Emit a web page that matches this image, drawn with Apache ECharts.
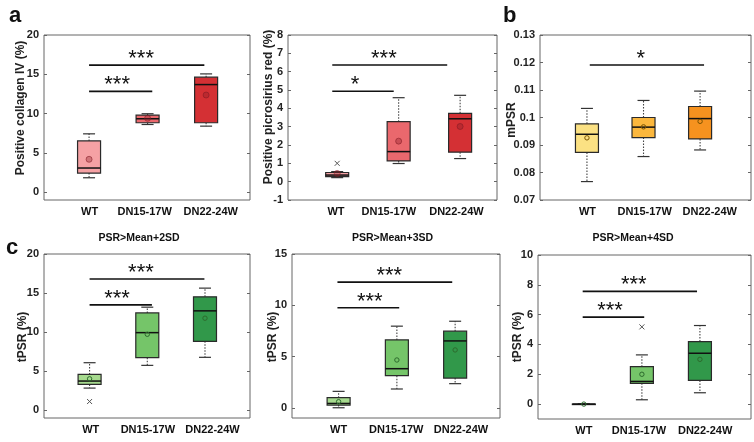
<!DOCTYPE html>
<html><head><meta charset="utf-8">
<script src="https://cdn.jsdelivr.net/npm/echarts@6/dist/echarts.min.js"></script>
<style>html,body{margin:0;padding:0;background:#fff}#c{width:754px;height:442px}</style>
</head><body><div id="c"></div>
<script>
// ---------- data ----------
const groups = ['WT', 'DN15-17W', 'DN22-24W'];
// five-number summaries per group: [min, q1, median, q3, max]
const collagenIV = [[1.83, 2.43, 3.07, 6.52, 7.42], [8.61, 8.83, 9.34, 9.80, 9.98], [8.40, 8.83, 13.69, 14.63, 15.05]];
const collagenIVMean = [4.18, 9.40, 12.36];
const collagenIVOutliers = [];
const collagenIVSig = [[1.0, 2.08, 12.83, 1.48], [1.0, 2.97, 16.16, 1.89]];
const collagenIVSigLabels = ['***', '***'];
const collagenIVTicks = [0, 5, 10, 15, 20];

const picrosirius = [[0.22, 0.27, 0.36, 0.50, 0.55], [0.99, 1.13, 1.64, 3.27, 4.58], [1.26, 1.61, 3.43, 3.73, 4.71]];
const picrosiriusMean = [0.45, 2.21, 3.01];
const picrosiriusOutliers = [[1, 1.0]];
const picrosiriusSig = [[0.92, 1.92, 4.93, 1.29], [0.92, 2.79, 6.36, 1.76]];
const picrosiriusSigLabels = ['*', '***'];
const picrosiriusTicks = [-1, 0, 1, 2, 3, 4, 5, 6, 7, 8];

const mPSR = [[0.0767, 0.0873, 0.0939, 0.0977, 0.1033], [0.0858, 0.0927, 0.0965, 0.1000, 0.1062], [0.0882, 0.0922, 0.0996, 0.1040, 0.1096]];
const mPSRMean = [0.0926, 0.0966, 0.0986];
const mPSROutliers = [];
const mPSRSig = [[1.05, 3.07, 0.1191, 1.95]];
const mPSRSigLabels = ['*'];
const mPSRTicks = [0.07, 0.08, 0.09, 0.1, 0.11, 0.12, 0.13];

const tPSR2SD = [[2.83, 3.30, 3.73, 4.58, 6.08], [5.74, 6.72, 9.93, 12.46, 13.19], [6.77, 8.82, 12.72, 14.52, 15.63]];
const tPSR2SDMean = [4.02, 9.72, 11.78];
const tPSR2SDOutliers = [[1, 1.11]];
const tPSR2SDSig = [[1.0, 2.08, 13.49, 1.475], [1.0, 2.99, 16.79, 1.89]];
const tPSR2SDSigLabels = ['***', '***'];
const tPSR2SDTicks = [0, 5, 10, 15, 20];

const tPSR3SD = [[0, 0.26, 0.42, 0.98, 1.60], [1.83, 3.13, 3.81, 6.62, 7.96], [2.35, 2.90, 6.52, 7.47, 8.44]];
const tPSR3SDMean = [0.59, 4.66, 5.64];
const tPSR3SDOutliers = [];
const tPSR3SDSig = [[0.98, 2.04, 9.75, 1.535], [0.98, 2.95, 12.26, 1.87]];
const tPSR3SDSigLabels = ['***', '***'];
const tPSR3SDTicks = [0, 5, 10, 15];

const tPSR4SD = [[0, 0, 0, 0, 0], [0.29, 1.39, 1.52, 2.51, 3.30], [0.76, 1.59, 3.41, 4.19, 5.27]];
const tPSR4SDMean = [0, 2.0, 3.0];
const tPSR4SDOutliers = [[2, 5.18]];
const tPSR4SDSig = [[0.98, 2.04, 5.83, 1.45], [0.98, 2.95, 7.56, 1.86]];
const tPSR4SDSigLabels = ['***', '***'];
const tPSR4SDTicks = [0, 2, 4, 6, 8, 10];

// ---------- styles / layout ----------
const FF = '"Liberation Sans", Arial, Helvetica, sans-serif';
const reds = ['#f5a1a4', '#ea686d', '#d43034'];
const oranges = ['#fbe183', '#fbb73d', '#f6921f'];
const greens = ['#a6da8e', '#75c569', '#31984a'];

const panels = [
  {grid: {left: 44, top: 35, width: 206, height: 165}, x: [0.23, 3.75], y: [-1, 20], ticks: collagenIVTicks, labelX: [1.01, 1.95, 3.08],
   box: collagenIV, mean: collagenIVMean, out: collagenIVOutliers, sig: collagenIVSig, sigL: collagenIVSigLabels,
   colors: reds, meanFill: true, meanStroke: 'rgba(130,25,35,0.55)', name: 'Positive collagen IV (%)', nameAt: [21, 108]},
  {grid: {left: 288, top: 35, width: 209, height: 165}, x: [0.2, 3.6], y: [-1, 8], ticks: picrosiriusTicks, labelX: [0.98, 1.84, 2.94],
   box: picrosirius, mean: picrosiriusMean, out: picrosiriusOutliers, sig: picrosiriusSig, sigL: picrosiriusSigLabels,
   colors: reds, meanFill: true, meanStroke: 'rgba(130,25,35,0.55)', name: 'Positive picrosirius red (%)', nameAt: [268.5, 107]},
  {grid: {left: 540, top: 35, width: 211, height: 165}, x: [0.17, 3.9], y: [0.07, 0.13], ticks: mPSRTicks, labelX: [1.01, 2.02, 3.17],
   box: mPSR, mean: mPSRMean, out: mPSROutliers, sig: mPSRSig, sigL: mPSRSigLabels,
   colors: oranges, meanFill: false, meanStroke: '#7a5200', name: 'mPSR', nameAt: [512, 120]},
  {grid: {left: 44, top: 254, width: 206, height: 164}, x: [0.21, 3.78], y: [-1, 20], ticks: tPSR2SDTicks, labelX: [1.02, 2.01, 3.13],
   box: tPSR2SD, mean: tPSR2SDMean, out: tPSR2SDOutliers, sig: tPSR2SDSig, sigL: tPSR2SDSigLabels,
   colors: greens, meanFill: false, meanStroke: '#2d6b2d', name: 'tPSR (%)', nameAt: [23, 337], title: 'PSR>Mean+2SD', titleAt: [139, 238.5]},
  {grid: {left: 292, top: 254, width: 208, height: 164}, x: [0.2, 3.77], y: [-1, 15], ticks: tPSR3SDTicks, labelX: [1.0, 1.99, 3.1],
   box: tPSR3SD, mean: tPSR3SDMean, out: tPSR3SDOutliers, sig: tPSR3SDSig, sigL: tPSR3SDSigLabels,
   colors: greens, meanFill: false, meanStroke: '#2d6b2d', name: 'tPSR (%)', nameAt: [273, 337], title: 'PSR>Mean+3SD', titleAt: [392.5, 238.5]},
  {grid: {left: 538, top: 255, width: 213, height: 164}, x: [0.21, 3.88], y: [-1, 10], ticks: tPSR4SDTicks, labelX: [1.0, 1.95, 3.09],
   box: tPSR4SD, mean: tPSR4SDMean, out: tPSR4SDOutliers, sig: tPSR4SDSig, sigL: tPSR4SDSigLabels,
   colors: greens, meanFill: false, meanStroke: '#2d6b2d', name: 'tPSR (%)', nameAt: [518, 337], title: 'PSR>Mean+4SD', titleAt: [633, 238.5]}
];

const BOX_HALF = 11.5, CAP_HALF = 6;

function boxRenderer(p) {
  return function (params, api) {
    const x = api.value(0);
    const mn = api.coord([x, api.value(1)]), q1 = api.coord([x, api.value(2)]), md = api.coord([x, api.value(3)]);
    const q3 = api.coord([x, api.value(4)]), mx = api.coord([x, api.value(5)]), me = api.coord([x, api.value(6)]);
    const cx = mn[0];
    const whisk = {stroke: '#444', lineWidth: 1.1, lineDash: [1.5, 1.5]};
    const cap = {stroke: '#333', lineWidth: 1.2};
    const children = [
      {type: 'line', shape: {x1: cx, y1: q3[1], x2: cx, y2: mx[1]}, style: whisk},
      {type: 'line', shape: {x1: cx, y1: q1[1], x2: cx, y2: mn[1]}, style: whisk},
      {type: 'line', shape: {x1: cx - CAP_HALF, y1: mx[1], x2: cx + CAP_HALF, y2: mx[1]}, style: cap},
      {type: 'line', shape: {x1: cx - CAP_HALF, y1: mn[1], x2: cx + CAP_HALF, y2: mn[1]}, style: cap},
      {type: 'rect', shape: {x: cx - BOX_HALF, y: q3[1], width: 2 * BOX_HALF, height: Math.max(q1[1] - q3[1], 0.5)},
        style: {fill: p.colors[params.dataIndex], stroke: '#2a2a2a', lineWidth: 1.2}},
      {type: 'line', shape: {x1: cx - BOX_HALF, y1: md[1], x2: cx + BOX_HALF, y2: md[1]}, style: {stroke: '#111', lineWidth: 1.5}},
      {type: 'circle', shape: {cx: cx, cy: me[1], r: p.meanFill ? 3 : 2.2},
        style: {fill: p.meanFill ? 'rgba(140,30,40,0.35)' : 'none', stroke: p.meanStroke, lineWidth: 1}}
    ];
    return {type: 'group', children: children};
  };
}

function outlierRender(params, api) {
  const c = api.coord([api.value(0), api.value(1)]);
  const s = 2.5;
  return {type: 'group', children: [
    {type: 'line', shape: {x1: c[0] - s, y1: c[1] - s, x2: c[0] + s, y2: c[1] + s}, style: {stroke: '#555', lineWidth: 1}},
    {type: 'line', shape: {x1: c[0] - s, y1: c[1] + s, x2: c[0] + s, y2: c[1] - s}, style: {stroke: '#555', lineWidth: 1}}
  ]};
}

function sigRenderer(p) {
  return function (params, api) {
    const a = api.coord([api.value(0), api.value(2)]);
    const b = api.coord([api.value(1), api.value(2)]);
    const t = api.coord([api.value(3), api.value(2)]);
    return {type: 'group', children: [
      {type: 'line', shape: {x1: a[0], y1: a[1], x2: b[0], y2: b[1]}, style: {stroke: '#111', lineWidth: 1.6}},
      {type: 'text', style: {text: p.sigL[params.dataIndex], x: t[0], y: a[1] - 6, align: 'center', verticalAlign: 'middle',
        font: '22px ' + FF, fill: '#111'}}
    ]};
  };
}

function nearestGroup(labelX, v) {
  let best = 0;
  labelX.forEach((lx, k) => { if (Math.abs(lx - v) < Math.abs(labelX[best] - v)) best = k; });
  return groups[best];
}

const grids = [], xAxes = [], yAxes = [], series = [], graphics = [];
panels.forEach((p, i) => {
  grids.push(Object.assign({show: true, borderColor: '#666', borderWidth: 1, backgroundColor: '#fff'}, p.grid));
  xAxes.push({type: 'value', gridIndex: i, min: p.x[0], max: p.x[1], position: 'bottom',
    axisLine: {show: false}, splitLine: {show: false}, axisTick: {show: false},
    axisLabel: {customValues: p.labelX, formatter: v => nearestGroup(p.labelX, v), margin: 6,
      fontFamily: FF, fontWeight: 'bold', fontSize: 11, color: '#111'}});
  yAxes.push({type: 'value', gridIndex: i, min: p.y[0], max: p.y[1], position: 'left',
    axisLine: {show: false}, splitLine: {show: false},
    axisTick: {show: true, inside: true, length: 3, lineStyle: {color: '#666'}, customValues: p.ticks},
    axisLabel: {customValues: p.ticks, margin: 5, fontFamily: FF, fontWeight: 'bold', fontSize: 11, color: '#222'}});
  yAxes.push({type: 'value', gridIndex: i, min: p.y[0], max: p.y[1], position: 'right',
    axisLine: {show: false}, splitLine: {show: false},
    axisTick: {show: true, inside: true, length: 3, lineStyle: {color: '#666'}, customValues: p.ticks},
    axisLabel: {show: false}});
  series.push({type: 'custom', xAxisIndex: i, yAxisIndex: 2 * i, clip: false, z: 3,
    renderItem: boxRenderer(p),
    data: groups.map((g, k) => [k + 1].concat(p.box[k]).concat([p.mean[k]]))});
  if (p.out.length) series.push({type: 'custom', xAxisIndex: i, yAxisIndex: 2 * i, clip: false, z: 4,
    renderItem: outlierRender, data: p.out});
  series.push({type: 'custom', xAxisIndex: i, yAxisIndex: 2 * i, clip: false, z: 4,
    renderItem: sigRenderer(p), data: p.sig});
  graphics.push({type: 'text', x: p.nameAt[0], y: p.nameAt[1], rotation: Math.PI / 2,
    style: {text: p.name, align: 'center', verticalAlign: 'middle', font: 'bold 12px ' + FF, fill: '#222'}});
  if (p.title) graphics.push({type: 'text', x: p.titleAt[0], y: p.titleAt[1],
    style: {text: p.title, align: 'center', verticalAlign: 'middle', font: 'bold 10.5px ' + FF, fill: '#111'}});
});
graphics.push({type: 'text', x: 9, y: 16, style: {text: 'a', align: 'left', verticalAlign: 'middle', font: 'bold 22px ' + FF, fill: '#111'}});
graphics.push({type: 'text', x: 503, y: 16, style: {text: 'b', align: 'left', verticalAlign: 'middle', font: 'bold 22px ' + FF, fill: '#111'}});
graphics.push({type: 'text', x: 6, y: 248, style: {text: 'c', align: 'left', verticalAlign: 'middle', font: 'bold 22px ' + FF, fill: '#111'}});

const chart = echarts.init(document.getElementById('c'), null, {renderer: 'canvas'});
chart.setOption({animation: false, backgroundColor: '#fff', grid: grids, xAxis: xAxes, yAxis: yAxes, series: series, graphic: graphics});
</script>
</body></html>
